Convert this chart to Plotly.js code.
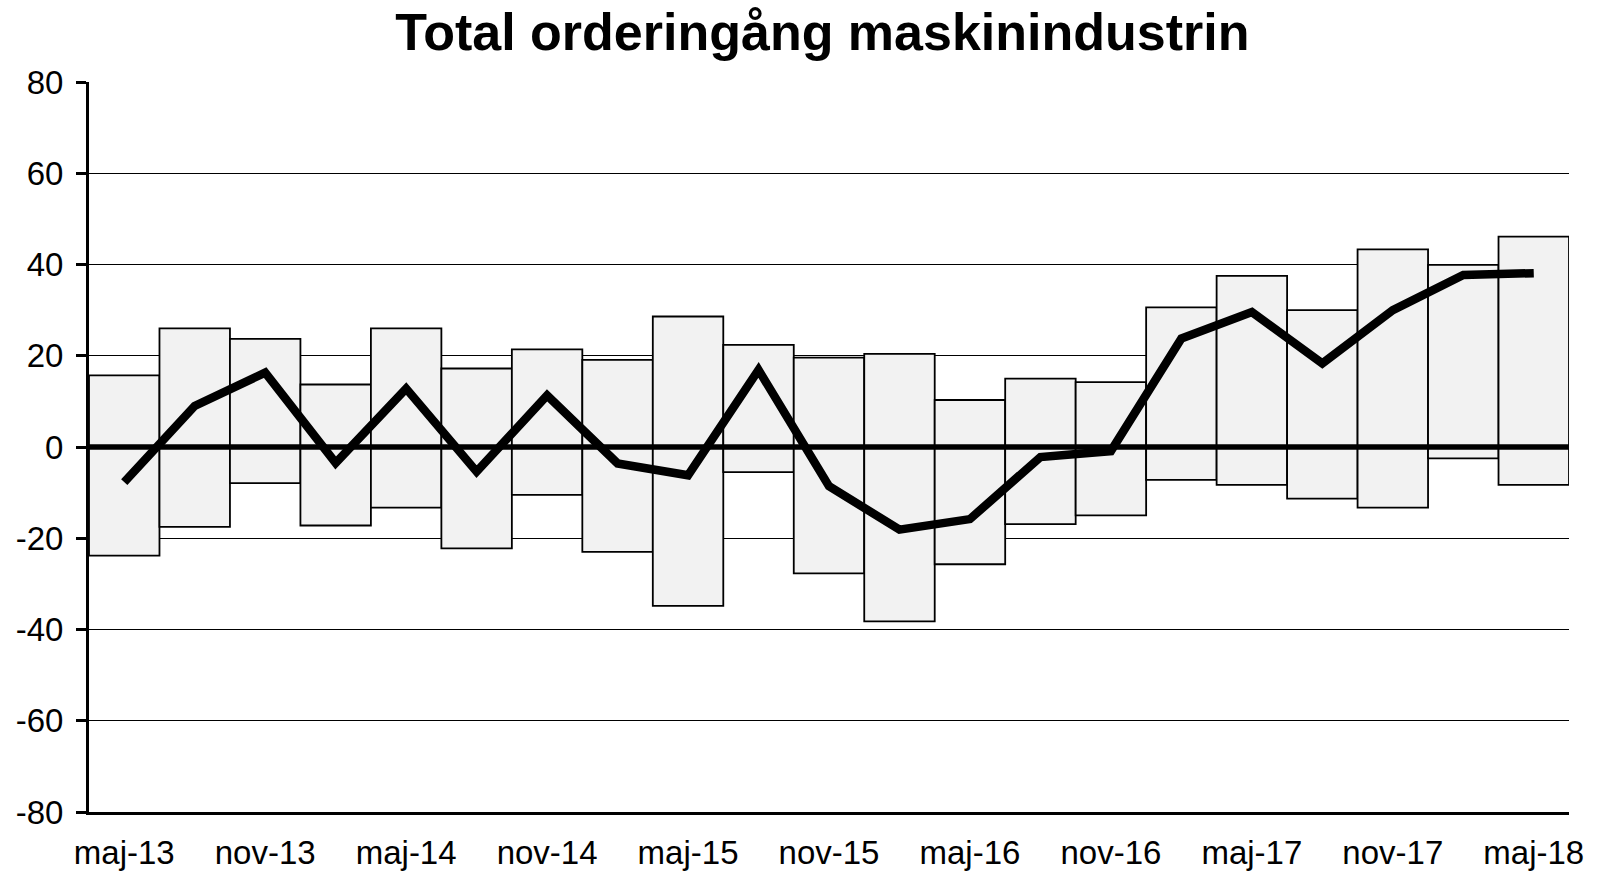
<!DOCTYPE html>
<html>
<head>
<meta charset="utf-8">
<script src="https://cdn.plot.ly/plotly-3.0.1.min.js"></script>
<style>
  html, body { margin: 0; padding: 0; background: #fff; }
  #chart { width: 1600px; height: 871px; }
</style>
</head>
<body>
<div id="chart"></div>
<script>
const categories = ['maj-13','aug-13','nov-13','feb-14','maj-14','aug-14','nov-14','feb-15','maj-15','aug-15','nov-15','feb-16','maj-16','aug-16','nov-16','feb-17','maj-17','aug-17','nov-17','feb-18','maj-18'];
const rangeHigh = [15.7, 26.0, 23.7, 13.7, 26.0, 17.2, 21.4, 19.1, 28.6, 22.4, 19.6, 20.4, 10.3, 15.0, 14.2, 30.6, 37.5, 30.0, 43.3, 39.9, 46.1];
const rangeLow  = [-23.8, -17.5, -7.9, -17.2, -13.3, -22.2, -10.5, -23.0, -34.8, -5.5, -27.7, -38.2, -25.7, -16.9, -15.0, -7.2, -8.3, -11.3, -13.3, -2.5, -8.3];
const orderIntake = [-7.7, 9.0, 16.3, -3.5, 12.8, -5.4, 11.3, -3.6, -6.2, 16.9, -8.6, -18.1, -15.8, -2.2, -0.9, 23.8, 29.6, 18.3, 30.0, 37.7, 38.1];
const xTickLabels = ['maj-13','nov-13','maj-14','nov-14','maj-15','nov-15','maj-16','nov-16','maj-17','nov-17','maj-18'];
const yTickValues = [-80, -60, -40, -20, 0, 20, 40, 60, 80];

const FONT = 'Arial, "Liberation Sans", sans-serif';

const barTrace = {
  type: 'bar',
  x: categories,
  y: rangeHigh.map((h, i) => h - rangeLow[i]),
  base: rangeLow,
  marker: { color: '#f2f2f2', line: { color: '#000', width: 1.8 } },
  hoverinfo: 'skip',
  showlegend: false
};

const lineTrace = {
  type: 'scatter',
  mode: 'lines',
  x: categories,
  y: orderIntake,
  line: { color: '#000', width: 8.5 },
  hoverinfo: 'skip',
  showlegend: false
};

const layout = {
  width: 1600,
  height: 871,
  margin: { l: 89, r: 31, t: 82, b: 59 },
  paper_bgcolor: '#fff',
  plot_bgcolor: '#fff',
  bargap: 0,
  showlegend: false,
  hovermode: false,
  title: {
    text: 'Total orderingång maskinindustrin',
    font: { family: FONT, size: 52, color: '#000', weight: 'bold' },
    x: 0.514, xanchor: 'center',
    y: 0.963, yanchor: 'middle'
  },
  xaxis: {
    type: 'category',
    range: [-0.5, categories.length - 0.5],
    tickmode: 'array',
    tickvals: xTickLabels,
    ticktext: xTickLabels,
    ticks: '',
    showgrid: false,
    zeroline: false,
    showline: true,
    linecolor: '#000',
    linewidth: 3,
    ticklabelstandoff: 9,
    tickfont: { family: FONT, size: 33, color: '#000' }
  },
  yaxis: {
    range: [-80, 80],
    tickmode: 'array',
    tickvals: yTickValues,
    ticktext: yTickValues.map(v => String(v)),
    ticks: 'outside',
    ticklen: 10,
    tickwidth: 3,
    tickcolor: '#000',
    showline: true,
    linecolor: '#000',
    linewidth: 3,
    showgrid: true,
    gridcolor: '#000',
    gridwidth: 1.3,
    zeroline: false,
    ticklabelstandoff: 6,
    tickfont: { family: FONT, size: 33, color: '#000' }
  },
  shapes: [{
    type: 'line', xref: 'paper', yref: 'y',
    x0: 0, x1: 1, y0: 0, y1: 0,
    line: { color: '#000', width: 5.5 },
    layer: 'above'
  }]
};

Plotly.newPlot('chart', [barTrace, lineTrace], layout, { displayModeBar: false, staticPlot: true });
</script>
</body>
</html>
